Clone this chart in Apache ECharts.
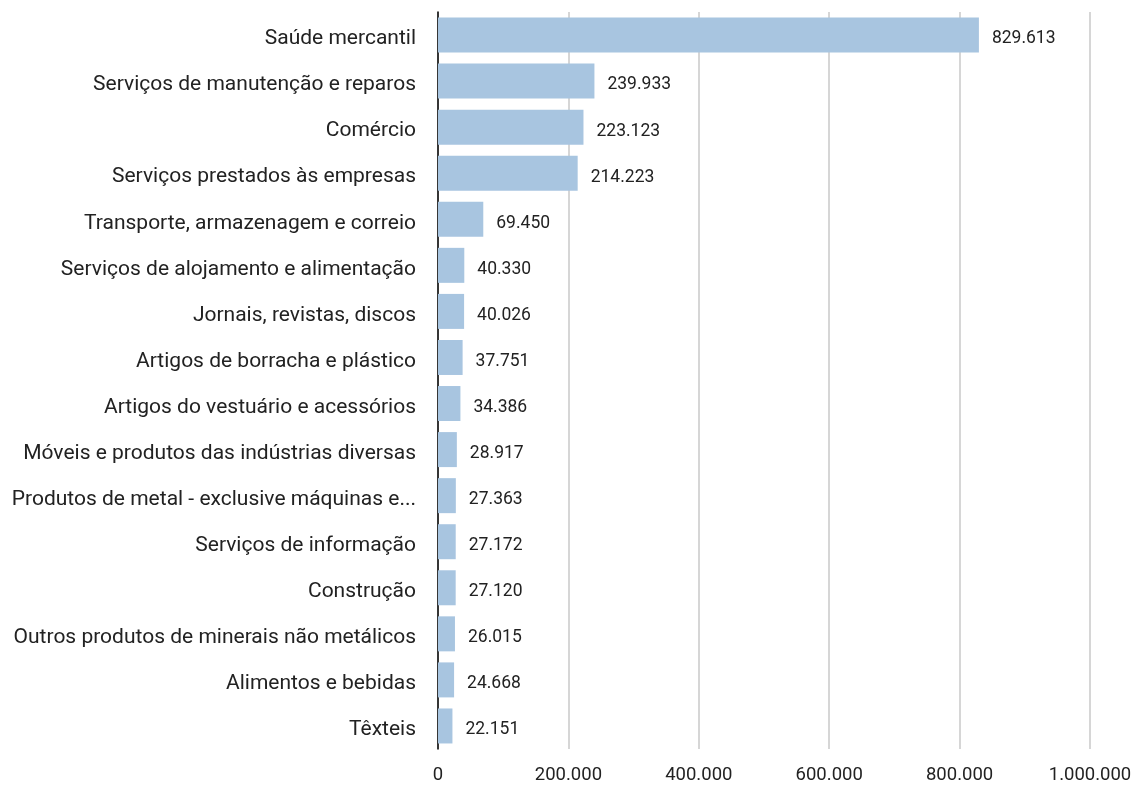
<!DOCTYPE html>
<html><head><meta charset="utf-8">
<script src="https://cdn.jsdelivr.net/npm/echarts@6/dist/echarts.min.js"></script>
<style>html,body{margin:0;padding:0;background:#fff}#c{width:1137px;height:785px}</style>
</head><body><div id="c"></div>
<script>
const categories = [
  "Saúde mercantil",
  "Serviços de manutenção e reparos",
  "Comércio",
  "Serviços prestados às empresas",
  "Transporte, armazenagem e correio",
  "Serviços de alojamento e alimentação",
  "Jornais, revistas, discos",
  "Artigos de borracha e plástico",
  "Artigos do vestuário e acessórios",
  "Móveis e produtos das indústrias diversas",
  "Produtos de metal - exclusive máquinas e...",
  "Serviços de informação",
  "Construção",
  "Outros produtos de minerais não metálicos",
  "Alimentos e bebidas",
  "Têxteis"
];
const values = [829613, 239933, 223123, 214223, 69450, 40330, 40026, 37751, 34386, 28917, 27363, 27172, 27120, 26015, 24668, 22151];
const xTicks = [0, 200000, 400000, 600000, 800000, 1000000];

function fmt(v){ return String(v).replace(/\B(?=(\d{3})+(?!\d))/g, '.'); }
const FONT = 'Roboto';
const chart = echarts.init(document.getElementById('c'), null, {renderer:'canvas'});
chart.setOption({
  animation:false,
  grid:{left:438, right:47, top:12, bottom:33, containLabel:false},
  xAxis:{
    type:'value', min:xTicks[0], max:xTicks[xTicks.length-1], interval:200000,
    axisLine:{show:false}, axisTick:{show:false},
    axisLabel:{formatter:fmt, color:'#222', fontSize:18.5, fontFamily:FONT, margin:17},
    splitLine:{show:true, lineStyle:{color:'#c8c8c8', width:1.5}}
  },
  yAxis:{
    type:'category', data:categories, inverse:true,
    axisLine:{show:true, lineStyle:{color:'#000', width:1.5}},
    axisTick:{show:false},
    axisLabel:{
      margin:22,
      formatter:v=>'{a|'+v+'}',
      rich:{a:{color:'#222', fontSize:21, fontFamily:FONT, padding:[8,0,0,0]}}
    },
    splitLine:{show:false}
  },
  series:[{
    type:'bar', data:values, barWidth:35,
    itemStyle:{color:'#a8c5e0'},
    label:{show:true, position:'right', distance:13, offset:[0,4], formatter:p=>fmt(p.value), color:'#222', fontSize:17.5, fontFamily:FONT}
  }]
});
</script></body></html>
